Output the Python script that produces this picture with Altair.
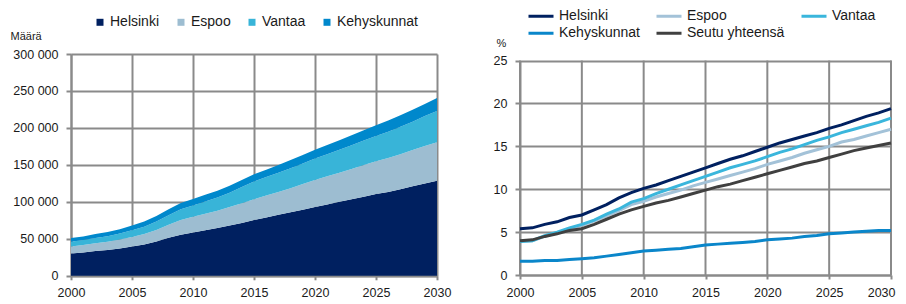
import altair as alt
import pandas as pd

years = list(range(2000, 2031))

# Left chart: number (stacked area)
area_series = ["Helsinki", "Espoo", "Vantaa", "Kehyskunnat"]
area_colors = ["#002060", "#9dbdd1", "#38b4d8", "#0088cc"]
helsinki_n = [30000, 31500, 33500, 35000, 37000, 39500, 42500, 46500, 51500, 55500,
              58500, 61500, 64500, 68000, 71500, 75500, 79000, 82500, 86000, 89500,
              93000, 96500, 100000, 103500, 107000, 110500, 113500, 117000, 121000, 125000, 128500]
espoo_n = [9500, 10000, 10500, 11000, 12000, 13000, 14000, 15500, 17500, 20000,
           21500, 22500, 23500, 25000, 26500, 28000, 29500, 31000, 32500, 34500,
           36500, 38000, 39500, 41000, 43000, 44500, 46000, 47500, 49000, 50500, 52000]
vantaa_n = [6500, 6800, 7200, 7600, 8300, 9000, 10000, 11500, 13000, 14500,
            15000, 16500, 18000, 19500, 22000, 24000, 25000, 26000, 27000, 28000,
            29000, 30000, 31000, 32000, 33000, 34000, 35500, 37000, 38500, 40500, 42500]
kehys_n = [5000, 4800, 5200, 5500, 5800, 6500, 7000, 7500, 8000, 8500,
           9000, 9000, 9200, 9400, 9600, 9800, 10000, 10500, 11000, 11500,
           12000, 12500, 13000, 13500, 14000, 14500, 15000, 15500, 16000, 16500, 17500]

# Right chart: share (%)
line_series = ["Helsinki", "Espoo", "Vantaa", "Kehyskunnat", "Seutu yhteensä"]
line_colors = ["#002060", "#a3c2d8", "#3ab6dc", "#0a86ca", "#404040"]
line_widths = [3, 3, 3, 3, 6]
helsinki_p = [5.4, 5.5, 5.9, 6.2, 6.7, 7.0, 7.6, 8.2, 9.0, 9.6,
              10.1, 10.5, 11.0, 11.5, 12.0, 12.5, 13.0, 13.5, 13.9, 14.4,
              14.9, 15.4, 15.8, 16.2, 16.6, 17.1, 17.5, 18.0, 18.5, 18.9, 19.4]
espoo_p = [3.9, 4.0, 4.5, 4.9, 5.4, 5.8, 6.3, 6.9, 7.5, 8.2,
           8.6, 9.1, 9.5, 9.9, 10.4, 10.8, 11.2, 11.6, 12.0, 12.4,
           12.9, 13.3, 13.7, 14.2, 14.6, 15.0, 15.5, 15.8, 16.2, 16.6, 17.0]
vantaa_p = [3.9, 4.0, 4.6, 5.0, 5.5, 5.9, 6.4, 7.1, 7.7, 8.5,
            8.9, 9.5, 10.0, 10.5, 11.0, 11.5, 12.0, 12.5, 12.9, 13.3,
            13.8, 14.3, 14.7, 15.2, 15.7, 16.1, 16.6, 17.0, 17.4, 17.8, 18.3]
kehys_p = [1.6, 1.6, 1.7, 1.7, 1.8, 1.9, 2.0, 2.2, 2.4, 2.6,
           2.8, 2.9, 3.0, 3.1, 3.3, 3.5, 3.6, 3.7, 3.8, 3.9,
           4.1, 4.2, 4.3, 4.5, 4.6, 4.8, 4.9, 5.0, 5.1, 5.2, 5.2]
seutu_p = [4.0, 4.1, 4.5, 4.8, 5.2, 5.4, 5.9, 6.5, 7.1, 7.6,
           8.0, 8.4, 8.7, 9.1, 9.5, 9.9, 10.3, 10.6, 11.0, 11.4,
           11.8, 12.2, 12.6, 13.0, 13.3, 13.7, 14.1, 14.5, 14.8, 15.1, 15.4]

x_ticks = [2000, 2005, 2010, 2015, 2020, 2025, 2030]
y_ticks_left = [0, 50000, 100000, 150000, 200000, 250000, 300000]
y_ticks_right = [0, 5, 10, 15, 20, 25]

rows = []
for idx, (name, vals) in enumerate(zip(area_series, [helsinki_n, espoo_n, vantaa_n, kehys_n])):
    for y, v in zip(years, vals):
        rows.append({"year": y, "alue": name, "value": v, "idx": idx})
df_left = pd.DataFrame(rows)

rows = []
for name, vals in zip(line_series, [helsinki_p, espoo_p, vantaa_p, kehys_p, seutu_p]):
    for y, v in zip(years, vals):
        rows.append({"vuosi": y, "sarja": name, "osuus": v})
df_right = pd.DataFrame(rows)
df_ticks = pd.DataFrame({"vuosi": x_ticks})

FONT = "Arial"
GRID = "#8a8a8a"

H_LEFT = 221.8
H_RIGHT = 221.0
TOP_RIGHT = 6.6

left = alt.Chart(df_left).mark_area(opacity=1).encode(
    x=alt.X("year:Q", scale=alt.Scale(domain=[2000, 2030], nice=False, zero=False),
            axis=alt.Axis(values=x_ticks, format="d", title=None, labelFontSize=12.5,
                          tickSize=4, labelPadding=7, grid=True, labelFlush=False)),
    y=alt.Y("value:Q", stack="zero",
            scale=alt.Scale(domain=[0, 300000], nice=False),
            axis=alt.Axis(values=y_ticks_left,
                          labelExpr="replace(format(datum.value, ','), ',', ' ')",
                          title="Määrä", titleAngle=0, titleX=-61, titleY=-14.7,
                          titleAlign="left", titleBaseline="alphabetic",
                          titleFontSize=11, titleFontWeight="normal",
                          labelFontSize=12.5, tickSize=5, labelPadding=8)),
    color=alt.Color("alue:N", scale=alt.Scale(domain=area_series, range=area_colors),
                    legend=alt.Legend(orient="none", legendX=22, legendY=-38.7,
                                      direction="horizontal", title=None,
                                      symbolType="square", symbolSize=49,
                                      symbolStrokeWidth=0, labelFontSize=14,
                                      columnPadding=14, labelOffset=3, padding=0)),
    order=alt.Order("idx:Q", sort="ascending"),
).properties(width=366, height=H_LEFT)

legend_right = dict(orient="none", legendX=7, legendY=-45.2, columns=3,
                    direction="horizontal", gridAlign="each",
                    title=None, symbolType="stroke", symbolSize=625, clipHeight=15,
                    columnPadding=15, rowPadding=2, labelFontSize=14, labelOffset=4,
                    padding=0)

x_scale_right = alt.Scale(domain=[2000, 2030], nice=False, zero=False)

x_right = alt.X("vuosi:Q", scale=x_scale_right,
                axis=alt.Axis(values=x_ticks, format="d", title=None, labelFontSize=12.5,
                              tickSize=4, labelPadding=7, grid=False, labelFlush=False,
                              labelAlign={"condition": {"test": "datum.value == 2030",
                                                        "value": "right"},
                                          "value": "center"},
                              labelOffset={"condition": {"test": "datum.value == 2030",
                                                         "value": 4},
                                           "value": 0}))
y_right = alt.Y("osuus:Q", scale=alt.Scale(domain=[0, 25], nice=False, zero=False,
                                          range=[H_RIGHT, TOP_RIGHT]),
                axis=alt.Axis(values=y_ticks_right, title="%", titleAngle=0,
                              titleX=-24, titleY=-7.7, titleAlign="left",
                              titleBaseline="alphabetic", titleFontSize=11,
                              titleFontWeight="normal", labelFontSize=12.5,
                              tickSize=5, labelPadding=8))

vgrid = alt.Chart(df_ticks).mark_rule(color=GRID, strokeWidth=2).encode(
    x=alt.X("vuosi:Q", scale=x_scale_right),
    y=alt.value(TOP_RIGHT),
    y2=alt.value(H_RIGHT),
)

lines = alt.Chart(df_right).mark_line().encode(
    x=x_right,
    y=y_right,
    color=alt.Color("sarja:N", scale=alt.Scale(domain=line_series, range=line_colors),
                    legend=alt.Legend(**legend_right)),
    strokeWidth=alt.StrokeWidth("sarja:N",
                                scale=alt.Scale(domain=line_series, range=line_widths),
                                legend=alt.Legend(**legend_right)),
)

right = alt.layer(vgrid, lines).properties(width=371, height=H_RIGHT)

chart = alt.hconcat(left, right, spacing=42).resolve_scale(
    color="independent", strokeWidth="independent"
).resolve_legend(color="independent", strokeWidth="independent").properties(
    padding={"left": 2, "top": 0, "right": 0, "bottom": -2}
).configure(font=FONT).configure_view(stroke=None).configure_axis(
    gridColor=GRID, gridWidth=2, domainColor=GRID, domainWidth=2,
    tickColor=GRID, tickWidth=2, labelColor="#1a1a1a", titleColor="#1a1a1a",
    labelFont=FONT, titleFont=FONT
).configure_legend(labelFont=FONT, labelColor="#1a1a1a")

chart.save("out.html", embed_options={"renderer": "svg", "actions": False})
